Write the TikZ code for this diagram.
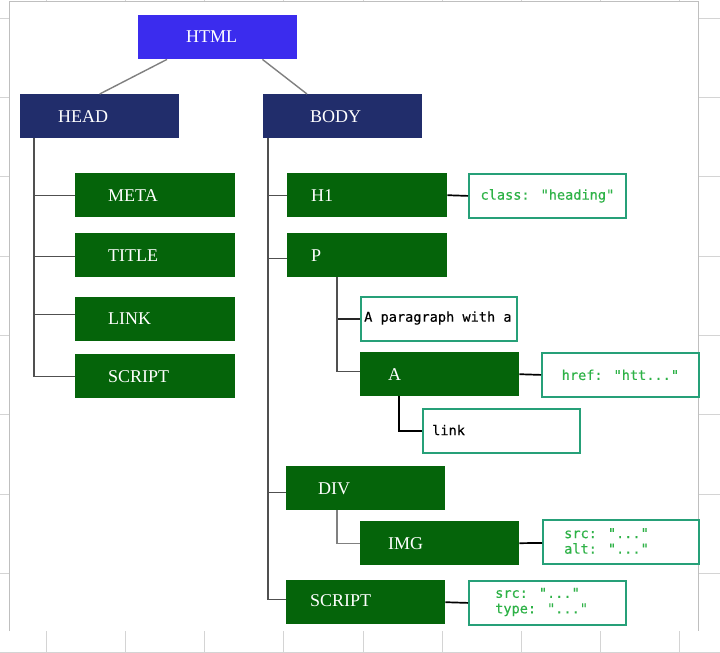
\documentclass[tikz,border=0pt]{standalone}
\usepackage{fontspec}
\setmainfont{Liberation Serif}
\newfontfamily\monof{DejaVu Sans Mono}[FakeBold=0.35]
\definecolor{htmlblue}{RGB}{59,44,238}
\definecolor{navy}{RGB}{33,45,107}
\definecolor{dgreen}{RGB}{5,100,10}
\definecolor{attrtxt}{RGB}{45,178,70}
\definecolor{teal}{RGB}{38,160,120}
\definecolor{gridc}{RGB}{212,212,212}
\definecolor{trunkc}{RGB}{80,80,80}
\tikzset{
  boxbase/.style={rectangle, anchor=north west, inner sep=0pt, minimum height=44pt},
  bluebox/.style={boxbase, fill=htmlblue, minimum width=159pt},
  navybox/.style={boxbase, fill=navy, minimum width=159pt},
  greenbox/.style={boxbase, fill=dgreen, minimum width=160pt},
  lab/.style={anchor=west, inner sep=0pt, text=white, font=\fontsize{18}{20}\selectfont},
  attrbox/.style={boxbase, draw=teal, line width=1.8pt, fill=white, minimum width=156pt},
  attrtext/.style={font=\monof\fontsize{13.6}{15.5}\selectfont, text=attrtxt, inner sep=0pt},
  blacktext/.style={font=\monof\fontsize{13.6}{15.5}\selectfont, text=black, inner sep=0pt},
  trunk/.style={draw=trunkc, line width=1.4pt},
  conn/.style={draw=black, line width=1.7pt},
  gridline/.style={draw=gridc, line width=1pt}
}
\begin{document}
\begin{tikzpicture}[x=1pt,y=-1pt]
\useasboundingbox (0,0) rectangle (720,653);
% spreadsheet grid background
\foreach \yy in {18,97,176,256,335,414,494,573,652}{\draw[gridline] (0,\yy) -- (720,\yy);}
\foreach \xx in {46,125,204,283,363,442,521,600,679}{\draw[gridline] (\xx,0) -- (\xx,653);}
\fill[white] (9,1.5) rectangle (698,631);
\draw[draw=gridc!90!black, line width=1pt] (9,631) -- (9,1.5) -- (698,1.5) -- (698,631);

% top level
\node[bluebox] (html) at (138,15) {};
\node[lab] (htmlT) at (186,37) {HTML};
\node[navybox] (head) at (20,94) {};
\node[lab] (headT) at (58,117) {HEAD};
\node[navybox] (body) at (263,94) {};
\node[lab] (bodyT) at (310,117) {BODY};
\draw[trunk, draw=gray] ([xshift=29pt]html.south west) -- (head.north);
\draw[trunk, draw=gray] ([xshift=-35pt]html.south east) -- ([xshift=44pt]body.north west);

% head children
\node[greenbox] (meta) at (75,173) {};
\node[lab] (metaT) at (108,196) {META};
\node[greenbox] (title) at (75,233) {};
\node[lab] (titleT) at (108,256) {TITLE};
\node[greenbox] (link) at (75,297) {};
\node[lab] (linkT) at (108,319) {LINK};
\node[greenbox] (hscript) at (75,354) {};
\node[lab] (hscriptT) at (108,377) {SCRIPT};
\draw[trunk] ([xshift=14pt]head.south west) |- (meta.west);
\draw[trunk] ([xshift=14pt]head.south west) |- ([yshift=-1pt]title.west);
\draw[trunk] ([xshift=14pt]head.south west) |- ([yshift=5pt]link.west);
\draw[trunk] ([xshift=14pt]head.south west) |- (hscript.west);

% body children
\node[greenbox] (h1) at (287,173) {};
\node[lab] (h1T) at (311,196) {H1};
\node[greenbox] (p) at (287,233) {};
\node[lab] (pT) at (311,256) {P};
\node[greenbox, minimum width=159pt] (div) at (286,466) {};
\node[lab] (divT) at (318,489) {DIV};
\node[greenbox, minimum width=159pt] (bscript) at (286,580) {};
\node[lab] (bscriptT) at (310,601) {SCRIPT};
\draw[trunk] ([xshift=5pt]body.south west) |- (h1.west);
\draw[trunk] ([xshift=5pt]body.south west) |- ([yshift=-3pt]p.west);
\draw[trunk] ([xshift=5pt]body.south west) |- ([yshift=-4pt]div.west);
\draw[trunk] ([xshift=5pt]body.south west) |- ([yshift=3pt]bscript.west);

% H1 attribute
\node[attrbox, minimum width=157pt] (cls) at (468,173) {};
\node[attrtext] (clsT) at (cls.center) {class: "heading"};
\draw[conn] (h1.east) -- (cls.west);

% P children
\node[attrbox] (para) at (360,296) {};
\node[blacktext, anchor=west] (paraT) at (364,318) {A paragraph with a};
\node[greenbox, minimum width=159pt] (a) at (360,352) {};
\node[lab] (aT) at (388,375) {A};
\draw[conn, draw=black!85] ([xshift=50pt]p.south west) |- (para.west);
\draw[trunk] ([xshift=50pt]p.south west) |- ([yshift=3pt]a.west);

% A attribute and child
\node[attrbox, minimum width=157pt] (href) at (541,352) {};
\node[attrtext] (hrefT) at (href.center) {href: "htt..."};
\draw[conn] (a.east) -- (href.west);
\node[attrbox, minimum width=157pt] (lnk) at (422,408) {};
\node[blacktext, anchor=west] (lnkT) at (432,430) {link};
\draw[conn] ([xshift=39pt]a.south west) |- (lnk.west);

% DIV child
\node[greenbox, minimum width=159pt] (img) at (360,521) {};
\node[lab] (imgT) at (388,544) {IMG};
\draw[trunk, draw=gray] ([xshift=51pt]div.south west) |- (img.west);
\node[attrbox] (imgattr) at (542,519) {};
\node[attrtext, anchor=west, align=left] (imgattrT) at (564,541) {src: "..."\\alt: "..."};
\draw[conn] (img.east) -- ([yshift=-1pt]imgattr.west);

% SCRIPT attribute
\node[attrbox, minimum width=157pt] (sattr) at (468,580) {};
\node[attrtext, anchor=west, align=left] (sattrT) at (495,602) {src: "..."\\type: "..."};
\draw[conn] (bscript.east) -- (sattr.west);
\end{tikzpicture}
\end{document}
